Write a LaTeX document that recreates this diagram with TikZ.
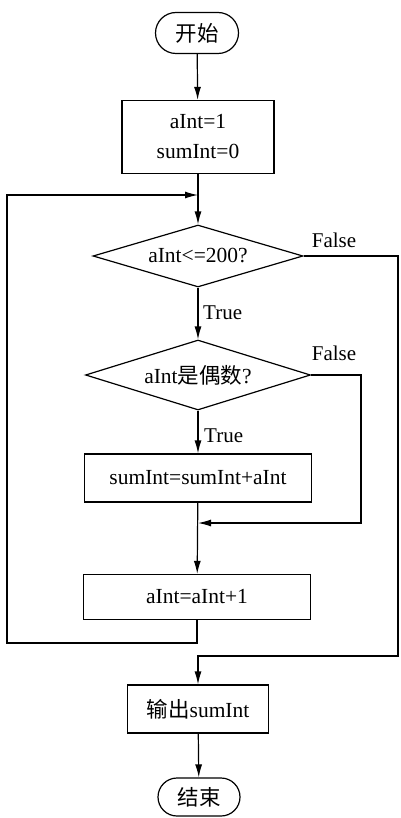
\documentclass[tikz,border=0pt]{standalone}
\usepackage{fontspec}
\setmainfont{Liberation Serif}
\newfontfamily\cjk{Noto Sans CJK SC}
\usetikzlibrary{shapes.geometric,shapes.misc,arrows.meta}
\begin{document}
\begin{tikzpicture}[x=1pt,y=-1pt,
  every node/.style={font=\fontsize{21.5}{30}\selectfont, inner sep=0pt},
  term/.style={draw, rounded rectangle, line width=1.2pt},
  proc/.style={draw, rectangle, line width=1.2pt},
  dec/.style={draw, diamond, line width=1.2pt},
  arr/.style={line width=1.2pt, -{Latex[length=13pt,width=7pt]}},
  ln/.style={line width=1.2pt},
  lbl/.style={font=\fontsize{21}{24}\selectfont}]
\path[fill=white, use as bounding box] (0,0) rectangle (400,818);

\node[term, minimum width=83pt, minimum height=41pt] (start) at (197,33) {\cjk 开始};
\node[proc, minimum width=152pt, minimum height=73pt, align=center] (init) at (198,137) {aInt=1\\sumInt=0};
\node[dec, aspect=3.4, minimum width=210pt, minimum height=62pt] (d1) at (198,256) {aInt<=200?};
\node[dec, aspect=3.2, minimum width=225pt, minimum height=70pt] (d2) at (198,375) {aInt{\cjk 是偶数}?};
\node[proc, minimum width=227pt, minimum height=48pt] (sum) at (198,478) {sumInt=sumInt+aInt};
\node[proc, minimum width=227pt, minimum height=45pt] (inc) at (197,597) {aInt=aInt+1};
\node[proc, minimum width=141pt, minimum height=48pt] (out) at (198,709) {{\cjk 输出}sumInt};
\node[term, minimum width=82pt, minimum height=38pt] (stop) at (199,797) {\cjk 结束};

\coordinate (j1) at (198,195);
\coordinate (lb) at (7,643);
\coordinate (r1) at (398,656);
\coordinate (r2) at (361,523);
\coordinate (j2) at (198,523);

\draw[arr] (start) -- (init);
\draw[arr] (init) -- (d1);
\draw[arr] (inc.south) |- (lb) |- (j1);
\draw[arr] (d1) -- (d2);
\draw[arr] (d1.east) -| (r1) -| (out.north);
\draw[arr] (d2) -- (sum);
\draw[arr] (d2.east) -| (r2) -- (j2);
\draw[arr] (sum) -- (inc);
\draw[arr] (out) -- (stop);

\node[lbl] (f1) at (334,240) {False};
\node[lbl] (f2) at (334,353) {False};
\node[lbl, anchor=west] (t1) at (203,313) {True};
\node[lbl, anchor=west] (t2) at (204,436) {True};
\end{tikzpicture}
\end{document}
